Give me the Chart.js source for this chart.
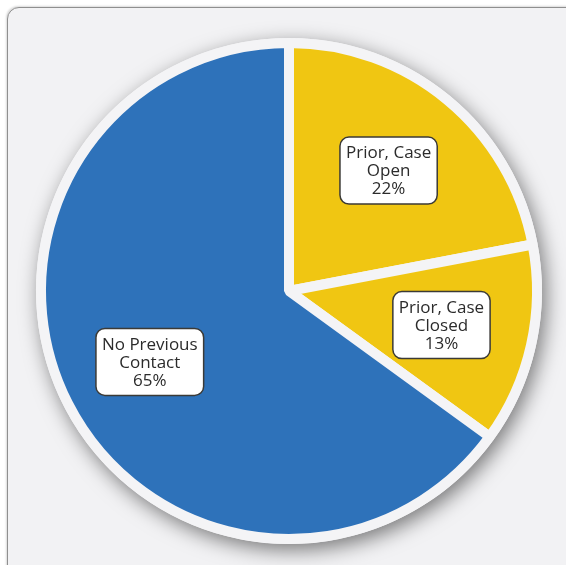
<!DOCTYPE html>
<html>
<head>
<meta charset="utf-8">
<script src="https://cdn.jsdelivr.net/npm/chart.js@4/dist/chart.umd.min.js"></script>
<style>
  html, body { margin: 0; padding: 0; background: #ffffff; overflow: hidden; }
  body { width: 566px; height: 565px; position: relative; }
  .panel {
    position: absolute; left: 7px; top: 7px; width: 580px; height: 580px;
    background: #f2f2f4; border: 1px solid #8f8f8f; border-radius: 12px;
    box-shadow: -1px -1px 2px rgba(0,0,0,0.15);
  }
  .wrap { position: absolute; left: 11px; top: 13px; width: 556px; height: 556px; }
</style>
</head>
<body>
<div class="panel"></div>
<div class="wrap"><canvas id="pie"></canvas></div>
<script>
// data
const labels = [["Prior, Case", "Open"], ["Prior, Case", "Closed"], ["No Previous", "Contact"]];
const shares = [22, 13, 65];
const colors = ["#f0c612", "#f0c612", "#2e72ba"];

// white disc with a soft shadow under the pie
const shadowPlugin = {
  id: "shadow",
  beforeDatasetsDraw(chart) {
    const arc = chart.getDatasetMeta(0).data[0];
    if (!arc) return;
    const ctx = chart.ctx;
    const r = arc.outerRadius + chart.data.datasets[0].borderWidth / 2;
    ctx.save();
    ctx.shadowColor = "rgba(0,0,0,0.5)";
    ctx.shadowBlur = 20;
    ctx.shadowOffsetX = 4;
    ctx.shadowOffsetY = 6;
    ctx.fillStyle = "#f4f4f6";
    ctx.beginPath();
    ctx.arc(arc.x, arc.y, r, 0, Math.PI * 2);
    ctx.fill();
    ctx.restore();
  }
};

// boxed labels inside each slice
const boxLabels = {
  id: "boxLabels",
  afterDatasetsDraw(chart) {
    const ctx = chart.ctx;
    const meta = chart.getDatasetMeta(0);
    ctx.save();
    ctx.font = "17px 'Open Sans', sans-serif";
    ctx.textAlign = "center";
    ctx.textBaseline = "middle";
    meta.data.forEach((arc, i) => {
      const mid = (arc.startAngle + arc.endAngle) / 2;
      const rr = arc.outerRadius * 0.63;
      const cx = arc.x + Math.cos(mid) * rr;
      const cy = arc.y + Math.sin(mid) * rr;
      const lines = labels[i].concat([shares[i] + "%"]);
      const lh = 18;
      let w = 0;
      lines.forEach(t => { w = Math.max(w, ctx.measureText(t).width); });
      const bw = w + 12, bh = lines.length * lh + 13;
      ctx.beginPath();
      ctx.roundRect(cx - bw / 2, cy - bh / 2, bw, bh, 9);
      ctx.fillStyle = "#ffffff";
      ctx.fill();
      ctx.lineWidth = 1.5;
      ctx.strokeStyle = "#3b3a36";
      ctx.stroke();
      ctx.fillStyle = "#2b2b2b";
      lines.forEach((t, k) => {
        ctx.fillText(t, cx, cy + 1 + (k - (lines.length - 1) / 2) * lh);
      });
    });
    ctx.restore();
  }
};

new Chart(document.getElementById("pie"), {
  type: "pie",
  data: {
    labels: labels.map(l => l.join(" ")),
    datasets: [{
      data: shares,
      backgroundColor: colors,
      borderColor: "#f4f4f6",
      borderWidth: 10
    }]
  },
  options: {
    responsive: true,
    maintainAspectRatio: false,
    animation: false,
    layout: { padding: 25 },
    plugins: { legend: { display: false }, tooltip: { enabled: false } }
  },
  plugins: [shadowPlugin, boxLabels]
});
</script>
</body>
</html>
